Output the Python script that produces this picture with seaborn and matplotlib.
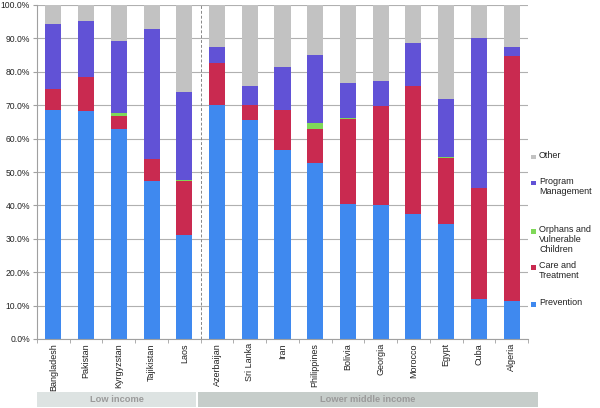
import matplotlib
matplotlib.use("Agg")
import matplotlib.pyplot as plt
from matplotlib.patches import Rectangle
from matplotlib.ticker import FixedLocator, FuncFormatter
import numpy as np
import pandas as pd
import seaborn as sns

countries = ["Bangladesh", "Pakistan", "Kyrgyzstan", "Tajikistan", "Laos",
             "Azerbaijan", "Sri Lanka", "Iran", "Philippines", "Bolivia",
             "Georgia", "Morocco", "Egypt", "Cuba", "Algeria"]
prevention = [68.5, 68.3, 63.0, 47.4, 31.2, 70.0, 65.6, 56.7, 52.7, 40.4, 40.0, 37.3, 34.4, 12.0, 11.4]
care = [6.5, 10.1, 3.9, 6.6, 16.0, 12.5, 4.6, 11.8, 10.2, 25.6, 29.8, 38.4, 19.9, 33.1, 73.2]
orphans = [0.0, 0.0, 0.8, 0.0, 0.3, 0.0, 0.0, 0.0, 1.9, 0.3, 0.0, 0.0, 0.2, 0.0, 0.0]
program = [19.3, 16.8, 21.4, 38.8, 26.4, 4.9, 5.5, 12.9, 20.2, 10.3, 7.4, 12.9, 17.4, 45.1, 2.8]
other = [5.7, 4.8, 10.9, 7.2, 26.1, 12.6, 24.3, 18.6, 15.0, 23.4, 22.8, 11.4, 28.1, 9.8, 12.6]
series_names = ["Prevention", "Care and\nTreatment", "Orphans and\nVulnerable\nChildren",
                "Program\nManagement", "Other"]
colors = ["#3f89ef", "#c92a50", "#7fd858", "#6152d6", "#c2c2c2"]
groups = ["Low income", "Lower middle income"]
group_sizes = [5, 10]

plt.rcParams["font.family"] = ["Liberation Sans", "DejaVu Sans"]
W, H = 600, 408
fig = plt.figure(figsize=(6, 4.08), dpi=100)
ax = fig.add_axes([37 / W, 1 - 339 / H, (528 - 37) / W, (339 - 5) / H])

layers = [prevention, care, orphans, program, other]
cum = np.cumsum(np.array(layers), axis=0)
for i in range(len(layers) - 1, -1, -1):
    df = pd.DataFrame({"country": countries, "value": cum[i]})
    sns.barplot(data=df, x="country", y="value", color=colors[i], width=0.49,
                saturation=1, ax=ax, zorder=3, order=countries)

ax.set_xlim(-0.5, len(countries) - 0.5)
ax.set_ylim(0, 100)
ax.set_xlabel("")
ax.set_ylabel("")
ax.set_facecolor("white")
for s in ["top", "right"]:
    ax.spines[s].set_visible(False)
for s in ["left", "bottom"]:
    ax.spines[s].set_color("#a0a0a0")
    ax.spines[s].set_linewidth(0.8)
    ax.spines[s].set_zorder(4)

ax.set_yticks(np.arange(0, 101, 10))
ax.yaxis.set_major_formatter(FuncFormatter(lambda v, p: f"{v:.1f}%"))
ax.tick_params(axis="y", labelsize=6.2, length=3, color="#a0a0a0", pad=2, labelcolor="#222222")
ax.grid(axis="y", color="#b0b0b0", linewidth=0.8, zorder=0)
ax.set_axisbelow(True)

ax.set_xticks(range(len(countries)))
ax.set_xticklabels(countries, rotation=90, fontsize=6.5, color="#222222")
ax.tick_params(axis="x", which="major", length=0, pad=3)
ax.xaxis.set_minor_locator(FixedLocator(np.arange(-0.5, len(countries), 1.0)))
ax.tick_params(axis="x", which="minor", length=3, color="#a0a0a0")

ax.axvline(group_sizes[0] - 0.5, color="#888888", linestyle=(0, (3, 2)), linewidth=0.7, zorder=2)

# group boxes below
box_specs = [(37, 196, "#dde3e2"), (198, 538, "#c6cdca")]
for (x0, x1, c), name in zip(box_specs, groups):
    fig.patches.append(Rectangle((x0 / W, 1 - 407 / H), (x1 - x0) / W, 15 / H,
                                 transform=fig.transFigure, facecolor=c, edgecolor="none"))
    fig.text((x0 + x1) / 2 / W, 1 - 399.5 / H, name, ha="center", va="center",
             fontsize=6.7, fontweight="bold", color="#9a9a9a")

# legend
leg_y = [304, 267, 231, 183, 157]
for name, c, yy in zip(series_names, colors, leg_y):
    fig.patches.append(Rectangle((531 / W, 1 - (yy + 2.5) / H), 5 / W, 5 / H,
                                 transform=fig.transFigure, facecolor=c, edgecolor="none"))
    fig.text(539 / W, 1 - (yy - 6) / H, name, ha="left", va="top", fontsize=6.5,
             color="#222222", linespacing=1.15)

fig.savefig("out.png", dpi=100)
